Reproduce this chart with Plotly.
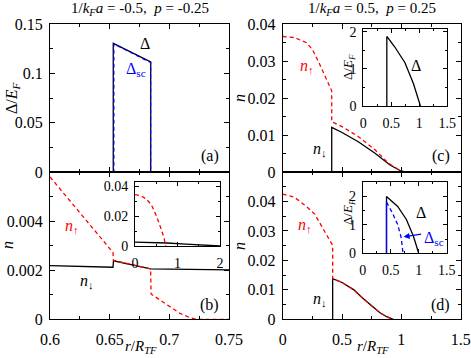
import plotly.graph_objects as go

W, H = 471, 358
FONT = "Liberation Serif"
RED, BLUE, BLACK = "#ff0000", "#0000ff", "#000000"

# (a) 1/kFa = -0.5, p = -0.25 : gap profiles (zoomed window)
a_r = [0.6, 0.653, 0.653, 0.6844, 0.6844, 0.75]
a_delta = [0, 0, 0.1307, 0.1118, 0, 0]
a_r_sc = [0.6, 0.6535, 0.6535, 0.6843, 0.6843, 0.75]
a_delta_sc = [0, 0, 0.1302, 0.1112, 0, 0]

# (b) densities in the same window
b_r_up = [0.6, 0.6528, 0.6532, 0.6843, 0.6847, 0.6922, 0.7006, 0.7089, 0.7173, 0.7229, 0.75]
b_n_up = [0.0058, 0.00272, 0.00240, 0.00205, 0.00103, 0.00079, 0.00049, 0.00024, 0.000065, 0.0, 0.0]
b_r_dn = [0.6, 0.6528, 0.6532, 0.6843, 0.75]
b_n_dn = [0.00219, 0.00212, 0.00238, 0.00205, 0.00201]

# (b) inset: full radial range
bi_r_up = [0, 0.04, 0.156, 0.27, 0.39, 0.506, 0.607, 0.686, 0.72]
bi_n_up = [0.0345, 0.0344, 0.0335, 0.0315, 0.0275, 0.0200, 0.0121, 0.0052, 0.0]
bi_r_dn = [0, 0.6, 0.75, 1.2, 1.6, 2.0]
bi_n_dn = [0.0026, 0.0022, 0.0020, 0.0012, 0.0005, 0.0]

# (c) 1/kFa = 0.5, p = 0.25 : densities
c_r_up = [0, 0.1, 0.2, 0.25, 0.3, 0.35, 0.39, 0.413, 0.413, 0.5, 0.637, 0.778, 0.89, 0.988, 1.03]
c_n_up = [0.0367, 0.0364, 0.0350, 0.0332, 0.0300, 0.0263, 0.0237, 0.0220,
          0.0136, 0.0123, 0.0096, 0.0060, 0.0024, 0.0004, 0.0]
c_r_dn = [0.413, 0.413, 0.5, 0.637, 0.778, 0.904, 0.988, 1.03]
c_n_dn = [0.0, 0.0121, 0.0107, 0.0082, 0.0051, 0.0019, 0.0004, 0.0]

# (c) inset: gap
ci_r = [0.42, 0.42, 0.56, 0.744, 0.896, 1.02]
ci_delta = [0.0, 1.88, 1.60, 1.17, 0.60, 0.0]

# (d) densities
d_r_up = [0, 0.1, 0.2, 0.27, 0.334, 0.38, 0.421, 0.421, 0.5, 0.6, 0.665, 0.75, 0.82, 0.88, 0.932]
d_n_up = [0.0425, 0.0414, 0.0383, 0.0357, 0.0312, 0.0281, 0.0251,
          0.0138, 0.0125, 0.0100, 0.0075, 0.0045, 0.0022, 0.0008, 0.0]
d_r_dn = [0.421, 0.421, 0.5, 0.6, 0.665, 0.75, 0.82, 0.88, 0.932]
d_n_dn = [0.0, 0.0138, 0.0125, 0.0100, 0.0075, 0.0045, 0.0022, 0.0008, 0.0]

# (d) inset: gap and self-consistent gap
di_r = [0.425, 0.425, 0.625, 0.78, 0.906, 1.0]
di_delta = [0.0, 2.0, 1.65, 1.19, 0.60, 0.0]
di_r_sc_edge = [0.425, 0.425]
di_delta_sc_edge = [0.0, 1.8]
di_r_sc = [0.425, 0.531, 0.625, 0.6875, 0.72]
di_delta_sc = [1.8, 1.42, 1.01, 0.55, 0.0]


def px(x):
    return x / W


def py(y):
    return 1 - y / H


def line(x, y, xa, ya, color, dash=None, width=1.3):
    return go.Scatter(x=x, y=y, xaxis=xa, yaxis=ya, mode="lines",
                      line=dict(color=color, width=width, dash=dash),
                      showlegend=False, hoverinfo="skip")


DASH = "4px,3px"
fig = go.Figure()
# (a)
fig.add_trace(line(a_r, a_delta, "x", "y", BLACK))
fig.add_trace(line(a_r_sc, a_delta_sc, "x", "y", BLUE, DASH))
# (b)
fig.add_trace(line(b_r_dn, b_n_dn, "x2", "y2", BLACK))
fig.add_trace(line(b_r_up, b_n_up, "x2", "y2", RED, DASH))
fig.add_trace(line(bi_r_dn, bi_n_dn, "x5", "y5", BLACK))
fig.add_trace(line(bi_r_up, bi_n_up, "x5", "y5", RED, DASH))
# (c)
fig.add_trace(line(c_r_dn, c_n_dn, "x3", "y3", BLACK))
fig.add_trace(line(c_r_up, c_n_up, "x3", "y3", RED, DASH))
fig.add_trace(line(ci_r, ci_delta, "x6", "y6", BLACK))
# (d)
fig.add_trace(line(d_r_dn, d_n_dn, "x4", "y4", BLACK))
fig.add_trace(line(d_r_up, d_n_up, "x4", "y4", RED, DASH))
fig.add_trace(line(di_r, di_delta, "x7", "y7", BLACK))
fig.add_trace(line(di_r_sc_edge, di_delta_sc_edge, "x7", "y7", BLUE))
fig.add_trace(line(di_r_sc, di_delta_sc, "x7", "y7", BLUE, DASH))


def ax(domain, rng, anchor, tickvals=None, ticktext=None, minor=None,
       labels=True, size=16, ticklen=5, standoff=3):
    d = dict(domain=domain, range=rng, anchor=anchor, showline=True,
             linecolor=BLACK, linewidth=1, mirror="ticks", ticks="inside",
             ticklen=ticklen, tickwidth=1, tickcolor=BLACK, showgrid=False,
             zeroline=False, showticklabels=labels, automargin=False,
             ticklabelstandoff=standoff,
             tickfont=dict(family=FONT, size=size, color=BLACK))
    if tickvals is not None:
        d["tickvals"] = tickvals
        d["ticktext"] = ticktext
    if minor is not None:
        d["minor"] = dict(dtick=minor, ticks="inside", ticklen=ticklen - 2,
                          tickcolor=BLACK, showgrid=False)
    return d


LX = [px(50), px(229)]
RX = [px(282.7), px(460.7)]
TOP = [py(172), py(24.3)]
BOT = [py(319.3), py(172)]
IS = 14

layout = dict(
    xaxis=ax(LX, [0.6, 0.75], "y", [0.6, 0.65, 0.7, 0.75], None, 0.025, labels=False),
    yaxis=ax(TOP, [0, 0.15], "x", [0, 0.05, 0.1, 0.15], ["0", "0.05", "0.1", "0.15"], 0.025),
    xaxis2=ax(LX, [0.6, 0.75], "y2", [0.6, 0.65, 0.7, 0.75], ["0.6", "0.65", "0.7", "0.75"], 0.025,
              standoff=5),
    yaxis2=ax(BOT, [0, 0.006], "x2", [0, 0.002, 0.004], ["0", "0.002", "0.004"], 0.001),
    xaxis3=ax(RX, [0, 1.5], "y3", [0, 0.5, 1, 1.5], None, 0.25, labels=False),
    yaxis3=ax(TOP, [0, 0.04], "x3", [0, 0.01, 0.02, 0.03, 0.04],
              ["0", "0.01", "0.02", "0.03", "0.04"], 0.005),
    xaxis4=ax(RX, [0, 1.5], "y4", [0, 0.5, 1, 1.5], ["0", "0.5", "1", "1.5"], 0.25, standoff=5),
    yaxis4=ax(BOT, [0, 0.05], "x4", [0, 0.01, 0.02, 0.03, 0.04],
              ["0", "0.01", "0.02", "0.03", "0.04"], 0.005),
    xaxis5=ax([px(135), px(220)], [0, 2], "y5", [0, 1, 2], ["0", "1", "2"], 0.5, size=IS, ticklen=4,
              standoff=4),
    yaxis5=ax([py(246), py(182)], [0, 0.043], "x5", [0, 0.02, 0.04], ["0", "0.02", "0.04"], 0.01,
              size=IS, ticklen=4),
    xaxis6=ax([px(363.3), px(447.3)], [0, 1.5], "y6", [0, 0.5, 1, 1.5], ["0", "0.5", "1", "1.5"], 0.25,
              size=IS, ticklen=4, standoff=4),
    yaxis6=ax([py(106), py(29)], [0, 2.08], "x6", [0, 1, 2], ["0", "1", "2"], 0.5, size=IS, ticklen=4),
    xaxis7=ax([px(362.7), px(446.7)], [0, 1.5], "y7", [0, 0.5, 1, 1.5], ["0", "0.5", "1", "1.5"], 0.25,
              size=IS, ticklen=4, standoff=4),
    yaxis7=ax([py(253.3), py(182.3)], [0, 2.5], "x7", [0, 1, 2], ["0", "1", "2"], 0.5, size=IS, ticklen=4),
)

NB = "\u00a0"
ann = []


def text(x, y, s, color=BLACK, size=16, ref="paper", angle=0):
    if ref == "paper":
        xref, yref = "paper", "paper"
    else:
        xref, yref = ref
    ann.append(dict(x=x, y=y, xref=xref, yref=yref, text=s, showarrow=False,
                    textangle=angle, xanchor="center", yanchor="middle",
                    font=dict(family=FONT, size=size, color=color)))


text(px(140), py(9), f"1/<i>k<sub>F</sub>a</i> = -0.5,{NB}{NB}<i>p</i> = -0.25", size=15)
text(px(372), py(9), f"1/<i>k<sub>F</sub>a</i> = 0.5,{NB}{NB}<i>p</i> = 0.25", size=15)
text(px(12), py(98), "Δ/<i>E<sub>F</sub></i>", angle=-90)
text(px(7), py(245), "<i>n</i>", angle=-90)
text(px(239), py(98), "<i>n</i>", angle=-90)
text(px(239), py(246), "<i>n</i>", angle=-90)
text(px(141), py(347), "<i>r</i>/<i>R<sub>TF</sub></i>", size=15)
text(px(373), py(347), "<i>r</i>/<i>R<sub>TF</sub></i>", size=15)
text(px(210), py(156), "(a)")
text(px(209), py(305), "(b)")
text(px(441), py(156), "(c)")
text(px(440), py(305), "(d)")
text(px(348), py(67), "Δ/<i>E<sub>F</sub></i>", size=13, angle=-90)
text(px(348), py(212), "Δ/<i>E<sub>F</sub></i>", size=13, angle=-90)

# curve labels in data coordinates
text(0.6796, 0.130, "Δ", ref=("x", "y"))
text(0.6718, 0.104, "Δ<sub>sc</sub>", color=BLUE, ref=("x", "y"))
text(0.6184, 0.0038, "<i>n</i><sub>↑</sub>", color=RED, ref=("x2", "y2"))
text(0.631, 0.00152, "<i>n</i><sub>↓</sub>", ref=("x2", "y2"))
text(0.205, 0.0287, "<i>n</i><sub>↑</sub>", color=RED, ref=("x3", "y3"))
text(0.315, 0.0060, "<i>n</i><sub>↓</sub>", ref=("x3", "y3"))
text(0.19, 0.0317, "<i>n</i><sub>↑</sub>", color=RED, ref=("x4", "y4"))
text(0.315, 0.0066, "<i>n</i><sub>↓</sub>", ref=("x4", "y4"))
text(0.94, 1.1, "Δ", ref=("x6", "y6"))
text(1.04, 1.45, "Δ", ref=("x7", "y7"))
text(1.28, 0.52, "Δ<sub>sc</sub>", color=BLUE, ref=("x7", "y7"))

ann.append(dict(x=0.73, y=0.58, ax=1.07, ay=0.68, xref="x7", yref="y7",
                axref="x7", ayref="y7", text="", showarrow=True, arrowhead=2,
                arrowsize=1, arrowwidth=1.2, arrowcolor=BLUE))

fig.update_layout(**layout)
fig.update_layout(
    annotations=ann, width=W, height=H, template="none",
    margin=dict(l=0, r=0, t=0, b=0),
    paper_bgcolor="white", plot_bgcolor="rgba(0,0,0,0)",
    font=dict(family=FONT, color=BLACK),
)
fig.write_html("out.html", config={"displayModeBar": False},
               post_script="document.body.style.margin='0px';")
